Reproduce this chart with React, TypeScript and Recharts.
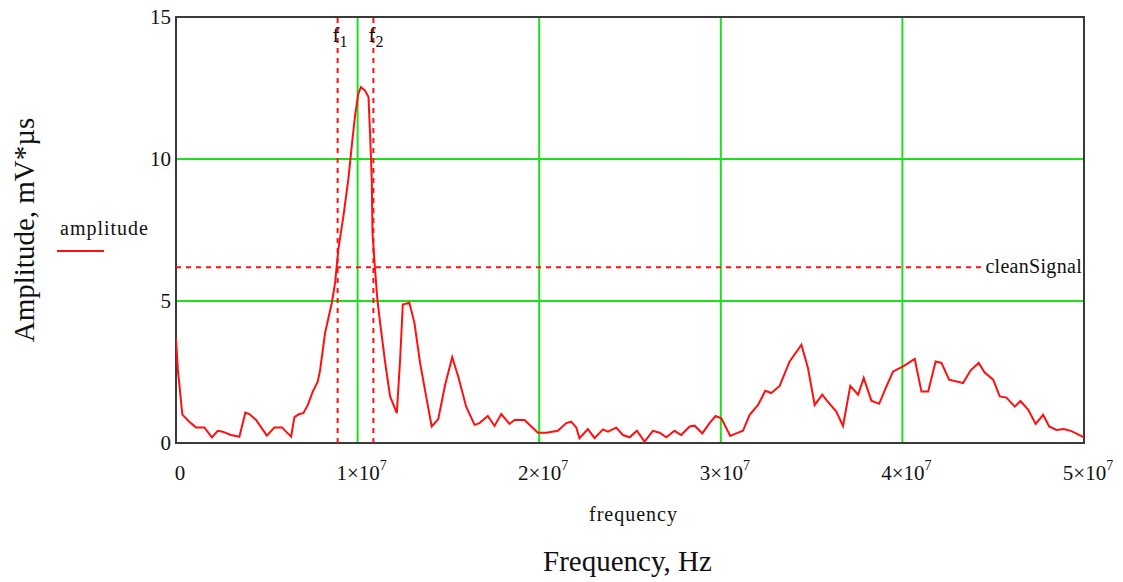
import React from 'react';
import {
  LineChart,
  Line,
  XAxis,
  YAxis,
  CartesianGrid,
  ReferenceLine,
  ReferenceArea,
} from 'recharts';

// frequency in MHz
const freqMHz = [
  0, 0.1, 0.35, 0.73, 1.1, 1.56, 1.98, 2.3, 2.57, 3.03, 3.49, 3.82, 4.04, 4.41, 5.0, 5.42, 5.84, 6.06,
  6.34, 6.52, 6.79, 7.01, 7.26, 7.53, 7.81, 7.93, 8.21, 8.58, 8.76, 8.94, 9.22, 9.49, 9.68, 9.86, 10.04,
  10.18, 10.41, 10.6, 10.69, 10.78, 10.82, 10.96, 11.09, 11.24, 11.52, 11.79, 12.16, 12.34, 12.49, 12.85,
  13.13, 13.44, 13.81, 14.08, 14.44, 14.82, 15.21, 15.54, 15.98, 16.44, 16.71, 17.17, 17.54, 17.91, 18.36,
  18.64, 19.19, 19.93, 20.39, 21.03, 21.49, 21.76, 22.04, 22.22, 22.68, 23.05, 23.51, 23.79, 24.24, 24.61,
  24.98, 25.38, 25.8, 26.26, 26.63, 27.0, 27.45, 27.82, 28.28, 28.56, 28.98, 29.38, 29.71, 30.03, 30.52,
  30.85, 31.22, 31.59, 32.05, 32.45, 32.78, 33.24, 33.79, 34.44, 34.8, 35.17, 35.59, 35.81, 36.36, 36.73,
  37.13, 37.56, 37.87, 38.29, 38.72, 39.12, 39.49, 40.04, 40.68, 41.05, 41.42, 41.83, 42.15, 42.57, 43.34,
  43.75, 44.2, 44.53, 45.0, 45.36, 45.73, 46.19, 46.5, 46.93, 47.34, 47.75, 48.08, 48.48, 48.89, 49.31, 50.0,
];

// amplitude, mV*us
const amplitude = [
  3.7, 2.6, 1.0, 0.75, 0.55, 0.55, 0.2, 0.43, 0.4, 0.28, 0.22, 1.07, 1.02, 0.81, 0.26, 0.55, 0.55, 0.4,
  0.22, 0.91, 1.02, 1.05, 1.34, 1.81, 2.17, 2.55, 3.88, 4.94, 5.64, 6.82, 8.0, 9.29, 10.47, 11.53, 12.3,
  12.53, 12.41, 12.18, 10.82, 9.29, 7.41, 6.11, 5.05, 4.23, 2.82, 1.64, 1.05, 2.93, 4.88, 4.94,
  4.23, 2.82, 1.52, 0.58, 0.84, 2.05, 3.02, 2.34, 1.28, 0.64, 0.7, 0.95, 0.6, 1.02, 0.67,
  0.81, 0.81, 0.36, 0.36, 0.43, 0.7, 0.75, 0.55, 0.17, 0.49, 0.17, 0.48, 0.4, 0.54, 0.28,
  0.2, 0.43, 0.05, 0.43, 0.36, 0.2, 0.43, 0.28, 0.58, 0.61, 0.34, 0.7, 0.95, 0.87, 0.25,
  0.34, 0.43, 0.99, 1.34, 1.84, 1.76, 2.01, 2.87, 3.46, 2.64, 1.34, 1.7, 1.52, 1.11, 0.6,
  2.01, 1.7, 2.29, 1.49, 1.38, 1.99, 2.52, 2.7, 2.96, 1.81, 1.81, 2.87, 2.82, 2.23, 2.11,
  2.55, 2.82, 2.48, 2.23, 1.64, 1.6, 1.28, 1.48, 1.17, 0.67, 0.99, 0.58, 0.46, 0.49, 0.42, 0.2,
];

const xTicks = [0, 1e7, 2e7, 3e7, 4e7, 5e7];
const yTicks = [0, 5, 10, 15];

const f1 = 8.9e6;
const f2 = 10.87e6;
const cleanSignal = 6.19;

const data = freqMHz.map((f, i) => ({ f: f * 1e6, a: amplitude[i] }));

const FONT = '"Liberation Serif", "DejaVu Serif", serif';
const RED = '#ff1010';
const GREEN = '#1de01d';

const XTick = (props: any) => {
  const { x, y, payload } = props;
  const v = payload.value;
  if (v === 0) {
    return (
      <text x={x + 4} y={y + 29} textAnchor="middle" fontFamily={FONT} fontSize={21} fill="#111">
        0
      </text>
    );
  }
  const m = Math.round(v / 1e7);
  return (
    <text x={x + 4} y={y + 29} textAnchor="middle" fontFamily={FONT} fontSize={21} fill="#111">
      <tspan>{m}×10</tspan>
      <tspan dy={-10} fontSize={14}>7</tspan>
    </text>
  );
};

const YTick = (props: any) => {
  const { x, y, payload } = props;
  return (
    <text x={x + 3} y={y + 7} textAnchor="end" fontFamily={FONT} fontSize={21} fill="#111">
      {payload.value}
    </text>
  );
};

const FLabel = (props: any) => {
  const { viewBox, idx } = props;
  if (!viewBox) return null;
  return (
    <text x={viewBox.x - 5} y={viewBox.y + 25} fontFamily={FONT} fontSize={21} fill="#111">
      <tspan>f</tspan>
      <tspan dy={5} fontSize={16}>{idx}</tspan>
    </text>
  );
};

const CleanLabel = (props: any) => {
  const { viewBox } = props;
  if (!viewBox) return null;
  const right = viewBox.x + viewBox.width;
  const y = viewBox.y;
  return (
    <g>
      <rect x={right - 100} y={y - 10} width={98} height={20} fill="#fff" />
      <text x={right - 2} y={y + 6} textAnchor="end" fontFamily={FONT} fontSize={20} letterSpacing={0.3} fill="#111">
        cleanSignal
      </text>
    </g>
  );
};

export default function App() {
  return (
    <div style={{ position: 'absolute', left: 0, top: 0, width: 1123, height: 582, background: '#fff', fontFamily: FONT }}>
      <LineChart
        width={1123}
        height={582}
        data={data}
        margin={{ top: 17, right: 39, left: 116, bottom: 109 }}
      >
        <CartesianGrid stroke={GREEN} strokeWidth={2} />
        <XAxis
          dataKey="f"
          type="number"
          domain={[0, 5e7]}
          ticks={xTicks}
          axisLine={false}
          tickLine={false}
          tick={<XTick />}
          height={30}
          allowDataOverflow
        />
        <YAxis
          type="number"
          domain={[0, 15]}
          ticks={yTicks}
          axisLine={false}
          tickLine={false}
          tick={<YTick />}
          width={60}
          allowDataOverflow
        />
        <ReferenceLine y={cleanSignal} stroke={RED} strokeWidth={2} strokeDasharray="5 5" label={<CleanLabel />} />
        <ReferenceLine x={f1} stroke={RED} strokeWidth={2} strokeDasharray="5 5" label={<FLabel idx="1" />} />
        <ReferenceLine x={f2} stroke={RED} strokeWidth={2} strokeDasharray="5 5" label={<FLabel idx="2" />} />
        <Line
          type="linear"
          dataKey="a"
          stroke={RED}
          strokeWidth={2}
          dot={false}
          isAnimationActive={false}
        />
        <ReferenceArea x1={0} x2={5e7} y1={0} y2={15} fill="none" stroke="#3a3a3a" strokeWidth={2} ifOverflow="visible" />
      </LineChart>

      <div
        style={{
          position: 'absolute',
          left: 24,
          top: 230,
          transform: 'translate(-50%, -50%) rotate(-90deg)',
          whiteSpace: 'nowrap',
          fontSize: 29,
          color: '#111',
        }}
      >
        Amplitude, mV*µs
      </div>
      <div style={{ position: 'absolute', left: 60, top: 217, fontSize: 20, letterSpacing: 1, color: '#111' }}>amplitude</div>
      <div style={{ position: 'absolute', left: 57, top: 250, width: 47, height: 2, background: RED }} />
      <div style={{ position: 'absolute', left: 589, top: 503, fontSize: 20, letterSpacing: 1, color: '#111' }}>frequency</div>
      <div style={{ position: 'absolute', left: 543, top: 545, fontSize: 29, color: '#111' }}>Frequency, Hz</div>
    </div>
  );
}
